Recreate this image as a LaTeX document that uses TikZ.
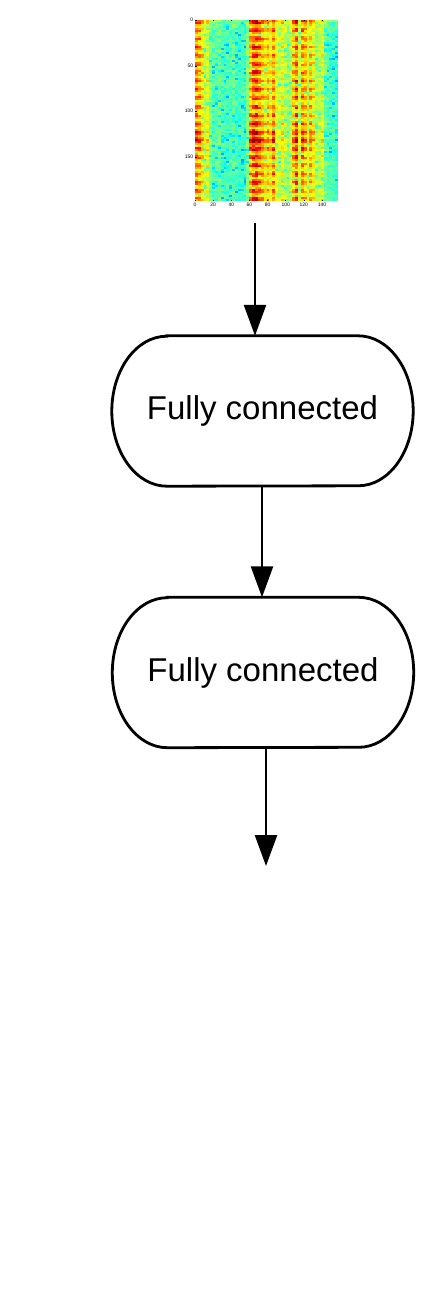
\documentclass[tikz,border=0pt]{standalone}
\usepackage{fontspec}
\setmainfont{Liberation Sans}
\usetikzlibrary{arrows.meta}
% outline of a layer box: straight top and bottom, half-ellipse ends
\newcommand{\stadiumoutline}[1]{%
  \draw[line width=2.8pt]
    ([xshift=55pt]#1.north west) -- ([xshift=-55pt]#1.north east)
    arc[start angle=-90, end angle=90, x radius=55, y radius=75]
    -- ([xshift=55pt]#1.south west)
    arc[start angle=90, end angle=270, x radius=55, y radius=75] -- cycle;}
\begin{document}
\begin{tikzpicture}[x=1pt,y=-1pt,
  layerbox/.style={minimum width=301pt, minimum height=150pt, inner sep=0pt,
    font=\fontsize{33}{39}\selectfont},
  flow/.style={line width=2.6pt, -{Triangle[length=31pt,width=22pt]}},
  ticklbl/.style={font=\fontsize{5}{6}\selectfont, inner sep=0.6pt},
  tickmark/.style={line width=0.6pt}]
\useasboundingbox (0,0) rectangle (441,1305);

% ---- spectrogram (jet colour map), 50 frames x 90 bins ----
\pgfmathsetseed{11}
\begin{scope}
  \clip (195,20) rectangle (338,201.2);
  \foreach \base [count=\i from 0] in {0.72,0.70,0.64,0.56,0.60,0.50,0.46,0.47,0.48,0.45,
      0.44,0.44,0.45,0.47,0.44,0.43,0.44,0.43,0.50,0.70,
      0.78,0.80,0.74,0.68,0.64,0.67,0.62,0.72,0.60,0.56,
      0.62,0.55,0.52,0.55,0.68,0.77,0.58,0.72,0.68,0.58,
      0.68,0.63,0.54,0.55,0.60,0.48,0.46,0.45,0.44,0.43} {
    \foreach \j in {0,...,89} {
      \pgfmathsetmacro{\yy}{(\j+0.5)*2.147}
      \pgfmathsetmacro{\act}{max(\base-0.5,0)}
      \pgfmathsetmacro{\v}{\base + \act*(0.45*sin(40*\yy) + 0.5*exp(-((\yy-128)/12)^2))
                          + 0.08*exp(-\yy/4) + 0.05*rand - 0.11*(rnd>0.88)}
      \pgfmathsetmacro{\v}{min(max(\v,0),1)}
      \pgfmathsetmacro{\cR}{min(max(1.5-abs(4*\v-3),0),1)}
      \pgfmathsetmacro{\cG}{min(max(1.5-abs(4*\v-2),0),1)}
      \pgfmathsetmacro{\cB}{min(max(1.5-abs(4*\v-1),0),1)}
      \definecolor{cell}{rgb}{\cR,\cG,\cB}
      \fill[cell] (195+\i*2.86,20+\j*2.012) rectangle ++(3.2,2.3);
    }
  }
\end{scope}
\node[minimum width=143pt, minimum height=181pt, inner sep=0pt] (spec) at (266.5,110.6) {};

% axis ticks and labels
\foreach \t/\yp in {0/20,50/66,100/111,150/157} {
  \draw[tickmark] (195,\yp) -- (196.5,\yp);
  \node[ticklbl, anchor=east] (ylab\t) at (194,\yp) {\t};
}
\foreach \t in {0,20,...,140} {
  \pgfmathsetmacro{\xp}{195+\t*0.907}
  \draw[tickmark] (\xp,20) -- (\xp,21.5);
  \draw[tickmark] (\xp,201.2) -- (\xp,199.7);
  \node[ticklbl, anchor=north] (xlab\t) at (\xp,202.5) {\t};
}

% ---- layers ----
\node[layerbox] (fc1) at (262.5,411) {Fully connected};
\node[layerbox] (fc2) at (263,672.5) {Fully connected};
\stadiumoutline{fc1}
\stadiumoutline{fc2}

% ---- connectors ----
\coordinate (in) at (255,223);
\coordinate (mid) at (262,486);
\coordinate (out) at (266,866);
\draw[flow] (in) -- (in |- fc1.north);
\draw[flow] (mid |- fc1.south) -- (mid |- fc2.north);
\draw[flow] (out |- fc2.south) -- (out);
\end{tikzpicture}
\end{document}
